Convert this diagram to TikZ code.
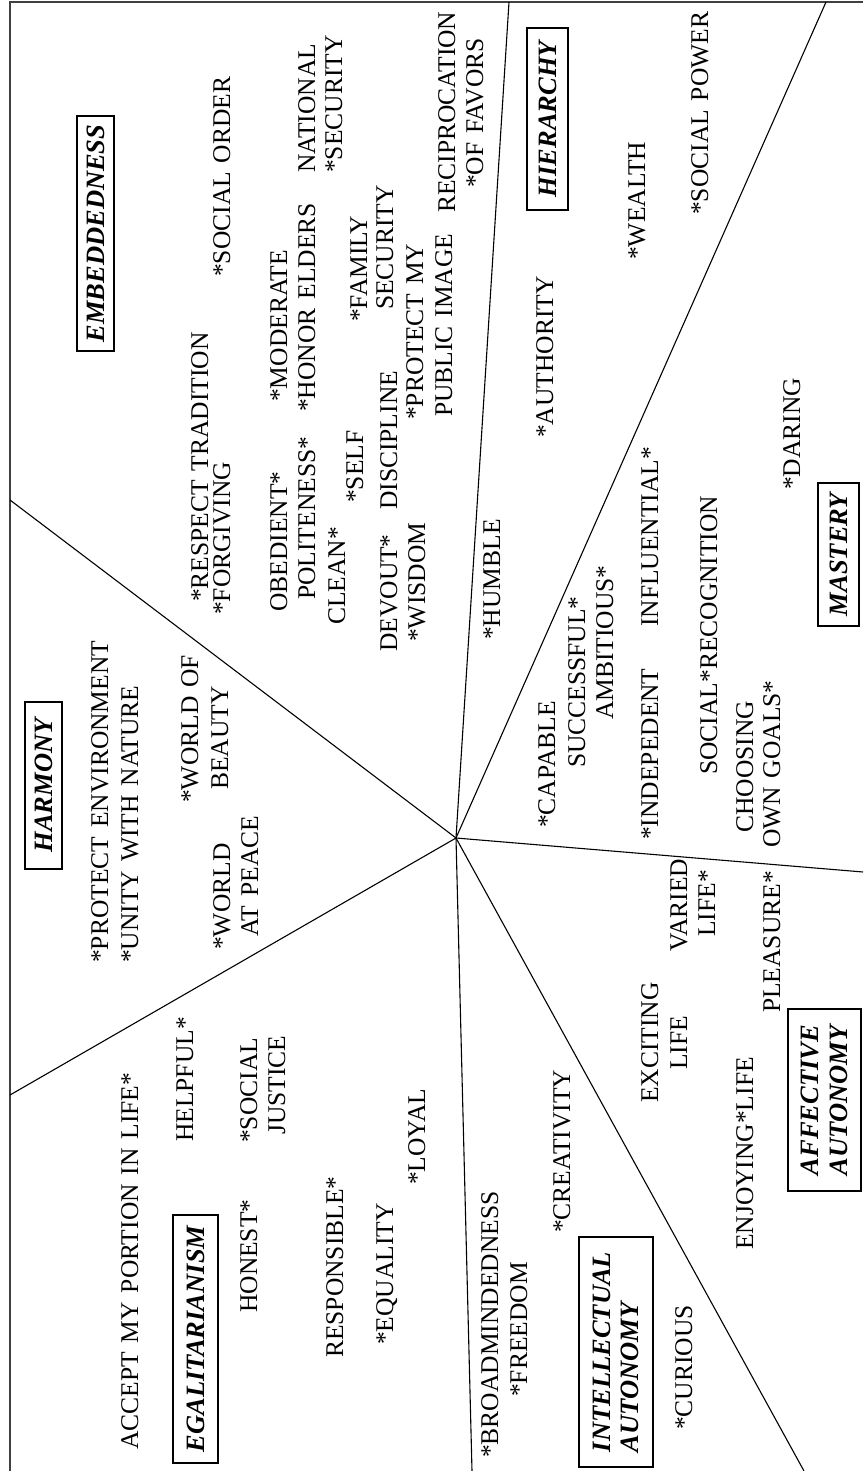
\documentclass[tikz,border=0pt]{standalone}
\usepackage{fontspec}
\setmainfont[WordSpace=1.4]{Liberation Serif}
\begin{document}
\begin{tikzpicture}[x=1pt,y=-1pt,
  lbl/.style={rotate=90,anchor=base west,inner sep=0pt,font=\fontsize{25.5}{29}\selectfont},
  cat/.style={rotate=90,draw=black,line width=1.1pt,inner sep=0pt,align=left,
    font=\fontsize{26.5}{28.5}\selectfont\bfseries\itshape},
  ray/.style={line width=1.1pt,black},
  frame/.style={line width=1.8pt,black!75}]
\useasboundingbox (0,0) rectangle (863,1471);
% frame
\coordinate (fbl) at (10,1471);
\coordinate (ftl) at (10,2);
\coordinate (ftr) at (863,2);
\draw[frame] (fbl) -- (ftl) -- (ftr);
% rays
\coordinate (c) at (456,838);
\coordinate (r1) at (509,2);
\coordinate (r2) at (826,2);
\coordinate (r3) at (863,872);
\coordinate (r4) at (804,1471);
\coordinate (r5) at (472,1471);
\coordinate (r6) at (10,1095);
\coordinate (r7) at (10,500);
\foreach \r in {r1,r2,r3,r4,r5,r6,r7} \draw[ray] (c) -- (\r);
% categories
\node[cat,minimum width=235,minimum height=37] (emb) at (95.5,233.5) {EMBEDDEDNESS};
\node[cat,minimum width=182,minimum height=41] (hie) at (547.5,119) {HIERARCHY};
\node[cat,minimum width=143,minimum height=41] (mas) at (838.5,554.5) {MASTERY};
\node[cat,minimum width=167,minimum height=37] (har) at (43.5,785.5) {HARMONY};
\node[cat,minimum width=248,minimum height=45] (ega) at (195.5,1339) {EGALITARIANISM};
\node[cat,minimum width=230,minimum height=74] (int) at (616,1352) {INTELLECTUAL\\AUTONOMY};
\node[cat,minimum width=182,minimum height=73] (aff) at (824.5,1100) {AFFECTIVE\\AUTONOMY};
% embeddedness
\node[lbl] (t1) at (230,277) {*SOCIAL ORDER};
\node[lbl] (t2) at (315,173) {NATIONAL};
\node[lbl] (t3) at (342,173) {*SECURITY};
\node[lbl] (t4) at (208,602) {*RESPECT TRADITION};
\node[lbl] (t5) at (230,615) {*FORGIVING};
\node[lbl] (t6) at (287,402) {*MODERATE};
\node[lbl] (t7) at (315,412) {*HONOR ELDERS};
\node[lbl] (t8) at (287,612) {OBEDIENT*};
\node[lbl] (t9) at (315,600) {POLITENESS*};
\node[lbl] (t10) at (345,625) {CLEAN*};
\node[lbl] (t11) at (363,503) {*SELF};
\node[lbl] (t12) at (367,322) {*FAMILY};
\node[lbl] (t13) at (393,310) {SECURITY};
\node[lbl] (t14) at (397,652) {DEVOUT*};
\node[lbl] (t15) at (397,510) {DISCIPLINE};
\node[lbl] (t16) at (425,642) {*WISDOM};
\node[lbl] (t17) at (423,420) {*PROTECT MY};
\node[lbl] (t18) at (452,417) {PUBLIC IMAGE};
\node[lbl] (t19) at (455,213) {RECIPROCATION};
\node[lbl] (t20) at (483,188) {*OF FAVORS};
% hierarchy
\node[lbl] (t21) at (553,438) {*AUTHORITY};
\node[lbl] (t22) at (645,260) {*WEALTH};
\node[lbl] (t23) at (708,215) {*SOCIAL POWER};
\node[lbl] (t24) at (500,640) {*HUMBLE};
% mastery
\node[lbl] (t25) at (555,828) {*CAPABLE};
\node[lbl] (t26) at (585,768) {SUCCESSFUL*};
\node[lbl] (t27) at (613,720) {AMBITIOUS*};
\node[lbl] (t28) at (658,840) {*INDEPEDENT};
\node[lbl] (t29) at (658,627) {INFLUENTIAL*};
\node[lbl] (t30) at (717,775) {SOCIAL*RECOGNITION};
\node[lbl] (t31) at (753,833) {CHOOSING};
\node[lbl] (t32) at (780,848) {OWN GOALS*};
\node[lbl] (t33) at (800,490) {*DARING};
% affective autonomy
\node[lbl] (t34) at (687,952) {VARIED};
\node[lbl] (t35) at (715,937) {LIFE*};
\node[lbl] (t36) at (780,1013) {PLEASURE*};
\node[lbl] (t37) at (658,1103) {EXCITING};
\node[lbl] (t38) at (687,1070) {LIFE};
\node[lbl] (t39) at (753,1250) {ENJOYING*LIFE};
% intellectual autonomy
\node[lbl] (t40) at (498,1458) {*BROADMINDEDNESS};
\node[lbl] (t41) at (527,1397) {*FREEDOM};
\node[lbl] (t42) at (570,1233) {*CREATIVITY};
\node[lbl] (t43) at (692,1430) {*CURIOUS};
% egalitarianism
\node[lbl] (t44) at (138,1450) {ACCEPT MY PORTION IN LIFE*};
\node[lbl] (t45) at (193,1142) {HELPFUL*};
\node[lbl] (t46) at (257,1313) {HONEST*};
\node[lbl] (t47) at (257,1143) {*SOCIAL};
\node[lbl] (t48) at (285,1135) {JUSTICE};
\node[lbl] (t49) at (343,1358) {RESPONSIBLE*};
\node[lbl] (t50) at (393,1345) {*EQUALITY};
\node[lbl] (t51) at (425,1185) {*LOYAL};
% harmony
\node[lbl] (t52) at (108,963) {*PROTECT ENVIRONMENT};
\node[lbl] (t53) at (138,963) {*UNITY WITH NATURE};
\node[lbl] (t54) at (198,803) {*WORLD OF};
\node[lbl] (t55) at (228,790) {BEAUTY};
\node[lbl] (t56) at (230,950) {*WORLD};
\node[lbl] (t57) at (258,937) {AT PEACE};
\end{tikzpicture}
\end{document}
